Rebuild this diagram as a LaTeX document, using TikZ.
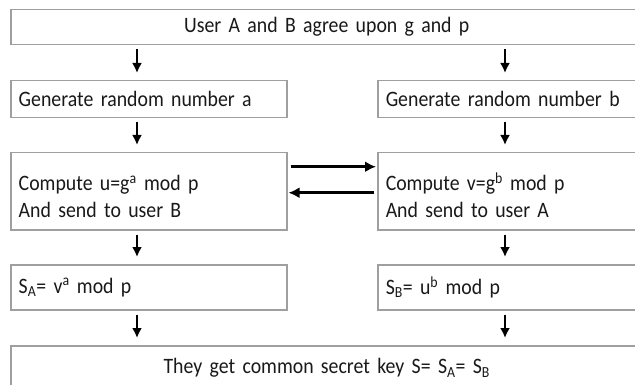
\documentclass[tikz,border=0pt]{standalone}
\usepackage{fontspec}
\setmainfont{Carlito}[FakeStretch=0.9,WordSpace=0.75]
\usetikzlibrary{arrows.meta}
\tikzset{
	box/.style={draw=gray!75,line width=1.5pt,inner xsep=8pt,inner ysep=0pt,anchor=north west,align=left,text=black!90,font=\fontsize{22}{27}\selectfont},
	arr/.style={line width=2.2pt,-{Latex[length=10pt,width=10pt]},shorten <=4pt,shorten >=7pt},
	xarr/.style={line width=2.8pt,-{Latex[length=11pt,width=11pt]},shorten <=3pt,shorten >=1pt},
}
\newcommand{\firstline}{\rule{0pt}{26pt}}
\begin{document}
\begin{tikzpicture}[x=1pt,y=-1pt]
		\useasboundingbox (0,0) rectangle (635,385);
		\clip (0,0) rectangle (635,385);
		
		% Boxes
		\node[box,text width=616pt,align=center,minimum height=35pt] (agree) at (10,9) {User A and B agree upon g and p};
		\node[box,text width=260pt,minimum height=37pt] (gena) at (10,80) {Generate random number a};
		\node[box,text width=249pt,minimum height=37pt] (genb) at (377,80) {Generate random number b};
		\node[box,text width=260pt,minimum height=77pt] (compa) at (10,152) {\firstline Compute u=g\textsuperscript{a} mod p\\And send to user B};
		\node[box,text width=249pt,minimum height=77pt] (compb) at (377,152) {\firstline Compute v=g\textsuperscript{b} mod p\\And send to user A};
		\node[box,text width=260pt,minimum height=45pt] (keya) at (10,264) {S\textsubscript{A}= v\textsuperscript{a} mod p};
		\node[box,text width=249pt,minimum height=45pt] (keyb) at (377,264) {S\textsubscript{B}= u\textsuperscript{b} mod p};
		\node[box,text width=616pt,align=center,minimum height=45pt] (secret) at (10,345) {They get common secret key S= S\textsubscript{A}= S\textsubscript{B}};
		
		% Columns
		\coordinate (colA) at (137,0);
		\coordinate (colB) at (505,0);
		
		% Arrows
		\foreach \u/\v/\c in {agree/gena/colA,agree/genb/colB,gena/compa/colA,genb/compb/colB,compa/keya/colA,compb/keyb/colB,keya/secret/colA,keyb/secret/colB}{
			\draw[arr] (\u.south -| \c) -- (\v.north -| \c);
			}
		\draw[xarr] ([yshift=24.5pt]compa.east) -- ([yshift=24.5pt]compb.west);
		\draw[xarr] ([yshift=-1.5pt]compb.west) -- ([yshift=-1.5pt]compa.east);
\end{tikzpicture}
\end{document}
